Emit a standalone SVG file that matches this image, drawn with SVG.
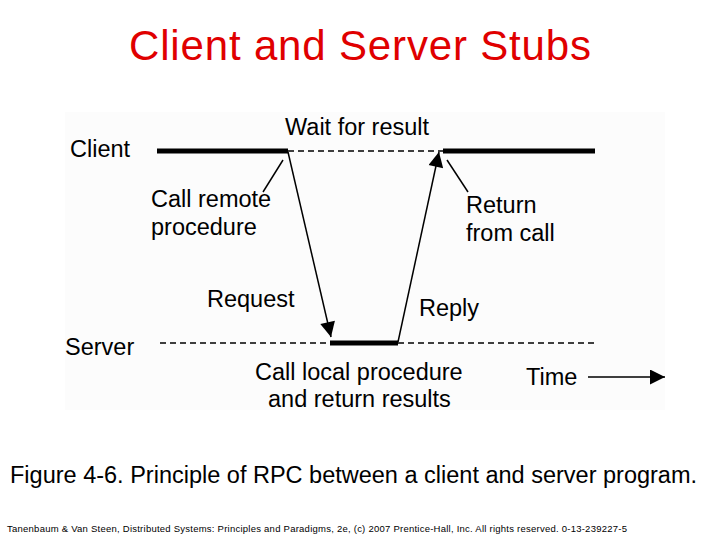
<svg xmlns="http://www.w3.org/2000/svg" width="720" height="540" viewBox="0 0 720 540">
<style>
text{font-family:"Liberation Sans",Arial,sans-serif;fill:#000}
.l{font-size:23.5px}
.thick{stroke:#000;stroke-width:5}
.dash{stroke:#000;stroke-width:1.3;stroke-dasharray:6,4}
.thin{stroke:#000;stroke-width:1.5;fill:none}
</style>
<defs>
<marker id="big" viewBox="0 0 10 10" refX="10" refY="5" markerWidth="22" markerHeight="15" markerUnits="userSpaceOnUse" orient="auto"><path d="M0,0L10,5L0,10z" fill="#000"/></marker>
</defs>
<rect width="720" height="540" fill="#fff"/>
<rect x="65" y="112" width="600" height="298" fill="#fcfcfc"/>
<text x="360" y="60" font-size="42" text-anchor="middle" textLength="462" style="fill:#e00000">Client and Server Stubs</text>
<g id="client"><text class="l" x="70" y="157">Client</text>
<line class="thick" x1="157" y1="151" x2="288" y2="151"/><line class="dash" x1="288" y1="151" x2="443" y2="151"/><line class="thick" x1="443" y1="151" x2="595" y2="151"/></g>
<g id="server"><text class="l" x="65" y="355">Server</text>
<line class="dash" x1="160" y1="343" x2="330" y2="343"/><line class="thick" x1="330" y1="343" x2="398" y2="343"/><line class="dash" x1="398" y1="343" x2="595" y2="343"/></g>
<g id="labels">
<text class="l" x="285" y="135">Wait for result</text>
<text class="l" x="151" y="207">Call remote</text><text class="l" x="151" y="235">procedure</text>
<text class="l" x="466" y="213">Return</text><text class="l" x="466" y="241">from call</text>
<text class="l" x="207" y="307">Request</text>
<text class="l" x="419" y="316">Reply</text>
<text class="l" x="255" y="380">Call local procedure</text><text class="l" x="268" y="407">and return results</text>
<text class="l" x="526" y="385">Time</text>
</g>
<g id="connectors">
<line class="thin" x1="288" y1="152" x2="331" y2="337" marker-end="url(#big)"/>
<line class="thin" x1="398" y1="342" x2="439" y2="152" marker-end="url(#big)"/>
<line class="thin" x1="283" y1="160" x2="263" y2="192"/>
<line class="thin" x1="447" y1="160" x2="468" y2="192"/>
<line class="thin" x1="588" y1="377" x2="665" y2="377" marker-end="url(#big)"/>
</g>
<text x="10" y="483" font-size="23.5">Figure 4-6. Principle of RPC between a client and server program.</text>
<text x="7" y="532" font-size="9.5" textLength="620">Tanenbaum &amp; Van Steen, Distributed Systems: Principles and Paradigms, 2e, (c) 2007 Prentice-Hall, Inc. All rights reserved. 0-13-239227-5</text>
</svg>
